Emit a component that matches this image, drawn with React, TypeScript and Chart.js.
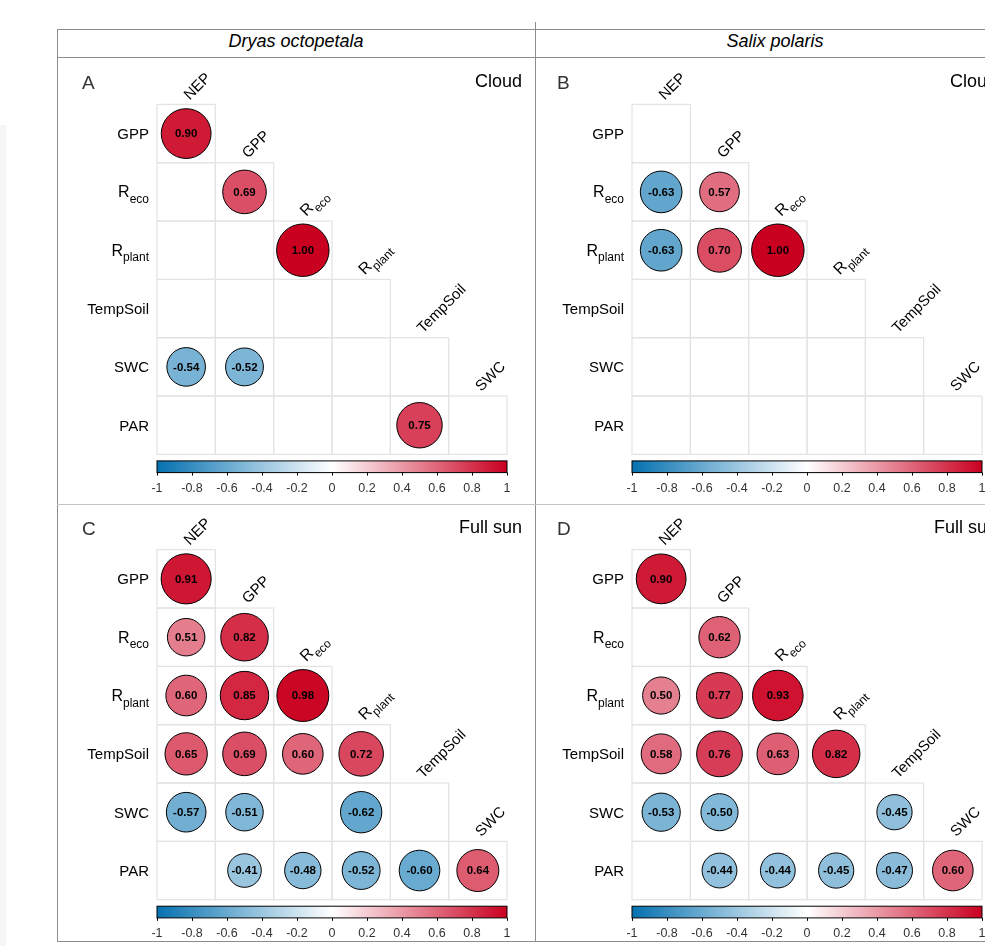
import React, { useEffect, useRef } from "react";
import { Chart, registerables } from "chart.js";
Chart.register(...registerables);

// ---------- data ----------
const columnVars = ["NEP", "GPP", "Reco", "Rplant", "TempSoil", "SWC"];
const rowVars = ["GPP", "Reco", "Rplant", "TempSoil", "SWC", "PAR"];
const labelMain: Record<string, string> = {
  NEP: "NEP", GPP: "GPP", Reco: "R", Rplant: "R", TempSoil: "TempSoil", SWC: "SWC", PAR: "PAR",
};
const labelSub: Record<string, string> = { Reco: "eco", Rplant: "plant" };

const speciesLabels = ["Dryas octopetala", "Salix polaris"];
const conditionLabels = ["Cloud", "Full sun"];
const panelLetters = ["A", "B", "C", "D"];

// lower triangle: row i (rowVars) has values for columns 0..i (columnVars); null = blank
const dryasCloud: (number | null)[][] = [
  [0.9],
  [null, 0.69],
  [null, null, 1.0],
  [null, null, null, null],
  [-0.54, -0.52, null, null, null],
  [null, null, null, null, 0.75, null],
];
const salixCloud: (number | null)[][] = [
  [null],
  [-0.63, 0.57],
  [-0.63, 0.7, 1.0],
  [null, null, null, null],
  [null, null, null, null, null],
  [null, null, null, null, null, null],
];
const dryasSun: (number | null)[][] = [
  [0.91],
  [0.51, 0.82],
  [0.6, 0.85, 0.98],
  [0.65, 0.69, 0.6, 0.72],
  [-0.57, -0.51, null, -0.62, null],
  [null, -0.41, -0.48, -0.52, -0.6, 0.64],
];
const salixSun: (number | null)[][] = [
  [0.9],
  [null, 0.62],
  [0.5, 0.77, 0.93],
  [0.58, 0.76, 0.63, 0.82],
  [-0.53, -0.5, null, null, -0.45],
  [null, -0.44, -0.44, -0.45, -0.47, 0.6],
];

const colorbarTicks = [-1, -0.8, -0.6, -0.4, -0.2, 0, 0.2, 0.4, 0.6, 0.8, 1];
const colorbarTickLabels = ["-1", "-0.8", "-0.6", "-0.4", "-0.2", "0", "0.2", "0.4", "0.6", "0.8", "1"];

// ---------- styling ----------
const FONT = '"Liberation Sans", Arial, Helvetica, sans-serif';
const NEG = [5, 113, 176];
const POS = [202, 0, 32];

function corrColor(v: number): string {
  const t = Math.min(1, Math.abs(v));
  const end = v >= 0 ? POS : NEG;
  const c = end.map((e) => Math.round(255 + (e - 255) * t));
  return `rgb(${c[0]},${c[1]},${c[2]})`;
}

type Panel = {
  letter: string;
  condition: string;
  matrix: (number | null)[][];
  box: { left: number; top: number; width: number; height: number };
  pad: { left: number; top: number; right: number; bottom: number };
};

const panels: Panel[] = [
  { letter: panelLetters[0], condition: conditionLabels[0], matrix: dryasCloud,
    box: { left: 57, top: 58, width: 478, height: 446 }, pad: { left: 100, top: 46.4, right: 28, bottom: 49.6 } },
  { letter: panelLetters[1], condition: conditionLabels[0], matrix: salixCloud,
    box: { left: 536, top: 58, width: 478, height: 446 }, pad: { left: 96, top: 46.4, right: 32, bottom: 49.6 } },
  { letter: panelLetters[2], condition: conditionLabels[1], matrix: dryasSun,
    box: { left: 57, top: 505, width: 478, height: 436 }, pad: { left: 100, top: 44.7, right: 28, bottom: 41.3 } },
  { letter: panelLetters[3], condition: conditionLabels[1], matrix: salixSun,
    box: { left: 536, top: 505, width: 478, height: 436 }, pad: { left: 96, top: 44.7, right: 32, bottom: 41.3 } },
];

function drawVarLabel(ctx: CanvasRenderingContext2D, key: string, x: number, baseline: number, alignRight: boolean) {
  const main = labelMain[key];
  const sub = labelSub[key] || "";
  const mainFont = sub ? `16px ${FONT}` : `15px ${FONT}`;
  ctx.font = mainFont;
  const mw = ctx.measureText(main).width;
  ctx.font = `12px ${FONT}`;
  const sw = sub ? ctx.measureText(sub).width : 0;
  const startX = alignRight ? x - mw - sw : x;
  ctx.textAlign = "left";
  ctx.textBaseline = "alphabetic";
  ctx.font = mainFont;
  ctx.fillText(main, startX, baseline);
  if (sub) {
    ctx.font = `12px ${FONT}`;
    ctx.fillText(sub, startX + mw, baseline + 5.5);
  }
}

function makePlugin(panel: Panel) {
  return {
    id: "corrDecor" + panel.letter,
    beforeDatasetsDraw(chart: any) {
      const { ctx } = chart;
      const x = chart.scales.x;
      const y = chart.scales.y;
      const cb = chart.scales.cb;
      ctx.save();
      // cells
      ctx.strokeStyle = "#e3e3e3";
      ctx.lineWidth = 1.2;
      rowVars.forEach((_, i) => {
        for (let j = 0; j <= i; j++) {
          const x0 = x.getPixelForValue(j - 0.5);
          const x1 = x.getPixelForValue(j + 0.5);
          const y0 = y.getPixelForValue(i - 0.5);
          const y1 = y.getPixelForValue(i + 0.5);
          ctx.strokeRect(x0, y0, x1 - x0, y1 - y0);
        }
      });
      // row labels
      ctx.fillStyle = "#000";
      rowVars.forEach((rv, i) => {
        const yc = y.getPixelForValue(i);
        drawVarLabel(ctx, rv, x.getPixelForValue(-0.5) - 8, yc + 5.5, true);
      });
      // column labels (rotated)
      columnVars.forEach((cv, j) => {
        const ax = x.getPixelForValue(j) + 3.5;
        const ay = y.getPixelForValue(j - 0.5) - 4;
        ctx.save();
        ctx.translate(ax, ay);
        ctx.rotate(-Math.PI / 4);
        drawVarLabel(ctx, cv, 0, 0, false);
        ctx.restore();
      });
      // colorbar
      const barTop = y.getPixelForValue(5.5) + 6.5;
      const barH = 11.7;
      const bx0 = cb.getPixelForValue(-1);
      const bx1 = cb.getPixelForValue(1);
      const grad = ctx.createLinearGradient(bx0, 0, bx1, 0);
      grad.addColorStop(0, corrColor(-1));
      grad.addColorStop(0.5, corrColor(0));
      grad.addColorStop(1, corrColor(1));
      ctx.fillStyle = grad;
      ctx.fillRect(bx0, barTop, bx1 - bx0, barH);
      ctx.strokeStyle = "#000";
      ctx.lineWidth = 1;
      ctx.strokeRect(bx0, barTop, bx1 - bx0, barH);
      ctx.beginPath();
      colorbarTicks.forEach((t) => {
        const px = Math.round(cb.getPixelForValue(t)) + 0.5;
        ctx.moveTo(px, barTop + barH);
        ctx.lineTo(px, barTop + barH + 3);
      });
      ctx.stroke();
      ctx.fillStyle = "#333";
      ctx.font = `12.5px ${FONT}`;
      ctx.textAlign = "center";
      ctx.textBaseline = "middle";
      colorbarTicks.forEach((t, k) => {
        ctx.fillText(colorbarTickLabels[k], cb.getPixelForValue(t), barTop + barH + 15.5);
      });
      // panel letter and condition
      const gTop = y.getPixelForValue(-0.5);
      ctx.textBaseline = "alphabetic";
      ctx.fillStyle = "#333";
      ctx.font = `19px ${FONT}`;
      ctx.textAlign = "left";
      ctx.fillText(panel.letter, x.getPixelForValue(-0.5) - 75, gTop - 15);
      ctx.fillStyle = "#000";
      ctx.font = `18px ${FONT}`;
      ctx.textAlign = "right";
      ctx.fillText(panel.condition, x.getPixelForValue(5.5) + 15, gTop - 17);
      ctx.restore();
    },
    afterDatasetsDraw(chart: any) {
      const { ctx } = chart;
      const meta = chart.getDatasetMeta(0);
      const data = chart.data.datasets[0].data as any[];
      ctx.save();
      ctx.fillStyle = "#000";
      ctx.font = `bold 11.5px ${FONT}`;
      ctx.textAlign = "center";
      ctx.textBaseline = "middle";
      meta.data.forEach((el: any, k: number) => {
        const v = data[k].v as number;
        ctx.fillText(v.toFixed(2), el.x, el.y + 0.5);
      });
      ctx.restore();
    },
  };
}

function PanelChart({ panel }: { panel: Panel }) {
  const ref = useRef<HTMLCanvasElement>(null);
  useEffect(() => {
    if (!ref.current) return;
    const points: { x: number; y: number; v: number }[] = [];
    panel.matrix.forEach((row, i) =>
      row.forEach((v, j) => {
        if (v !== null) points.push({ x: j, y: i, v });
      })
    );
    const radius = (c: any) => {
      const xs = c.chart.scales.x;
      if (!xs || !c.raw) return 0;
      const cell = Math.abs(xs.getPixelForValue(1) - xs.getPixelForValue(0));
      return Math.sqrt(Math.abs(c.raw.v)) * 0.45 * cell;
    };
    const chart = new Chart(ref.current, {
      type: "scatter",
      data: {
        datasets: [
          {
            data: points as any,
            pointRadius: radius,
            pointHoverRadius: radius,
            pointBackgroundColor: (c: any) => (c.raw ? corrColor(c.raw.v) : "#fff"),
            pointBorderColor: "#000",
            pointBorderWidth: 1,
          } as any,
        ],
      },
      options: {
        animation: false,
        responsive: true,
        maintainAspectRatio: false,
        events: [],
        layout: { padding: panel.pad },
        plugins: { legend: { display: false }, tooltip: { enabled: false } },
        scales: {
          x: { type: "linear", min: -0.5, max: 5.5, display: false },
          y: { type: "linear", min: -0.5, max: 5.5, reverse: true, display: false },
          cb: { type: "linear", axis: "x", position: "bottom", min: -1, max: 1, display: false },
        } as any,
      },
      plugins: [makePlugin(panel)],
    });
    return () => chart.destroy();
  }, [panel]);
  return (
    <div style={{ position: "absolute", ...panel.box }}>
      <canvas ref={ref} />
    </div>
  );
}

const line = (style: React.CSSProperties): React.CSSProperties => ({ position: "absolute", ...style });

export default function App() {
  return (
    <div
      style={{
        position: "absolute",
        left: 0,
        top: 0,
        width: 985,
        height: 946,
        overflow: "hidden",
        background: "#fff",
        fontFamily: FONT,
      }}
    >
      <div style={line({ left: 0, top: 125, width: 6, height: 821, background: "#f6f6f6" })} />
      <div style={line({ left: 57, top: 29, width: 1000, height: 1, background: "#8c8c8c" })} />
      <div style={line({ left: 57, top: 57, width: 1000, height: 1, background: "#8c8c8c" })} />
      <div style={line({ left: 57, top: 29, width: 1, height: 913, background: "#8c8c8c" })} />
      <div style={line({ left: 535, top: 22, width: 1, height: 920, background: "#8c8c8c" })} />
      <div style={line({ left: 57, top: 504, width: 1000, height: 1, background: "#c4c4c4" })} />
      <div style={line({ left: 57, top: 941, width: 1000, height: 1, background: "#8c8c8c" })} />
      {speciesLabels.map((s, k) => (
        <div
          key={s}
          style={line({
            left: k === 0 ? 57 : 536,
            top: 28,
            width: 478,
            height: 27,
            lineHeight: "27px",
            textAlign: "center",
            fontStyle: "italic",
            fontSize: 18,
            color: "#000",
          })}
        >
          {s}
        </div>
      ))}
      {panels.map((p) => (
        <PanelChart key={p.letter} panel={p} />
      ))}
    </div>
  );
}
